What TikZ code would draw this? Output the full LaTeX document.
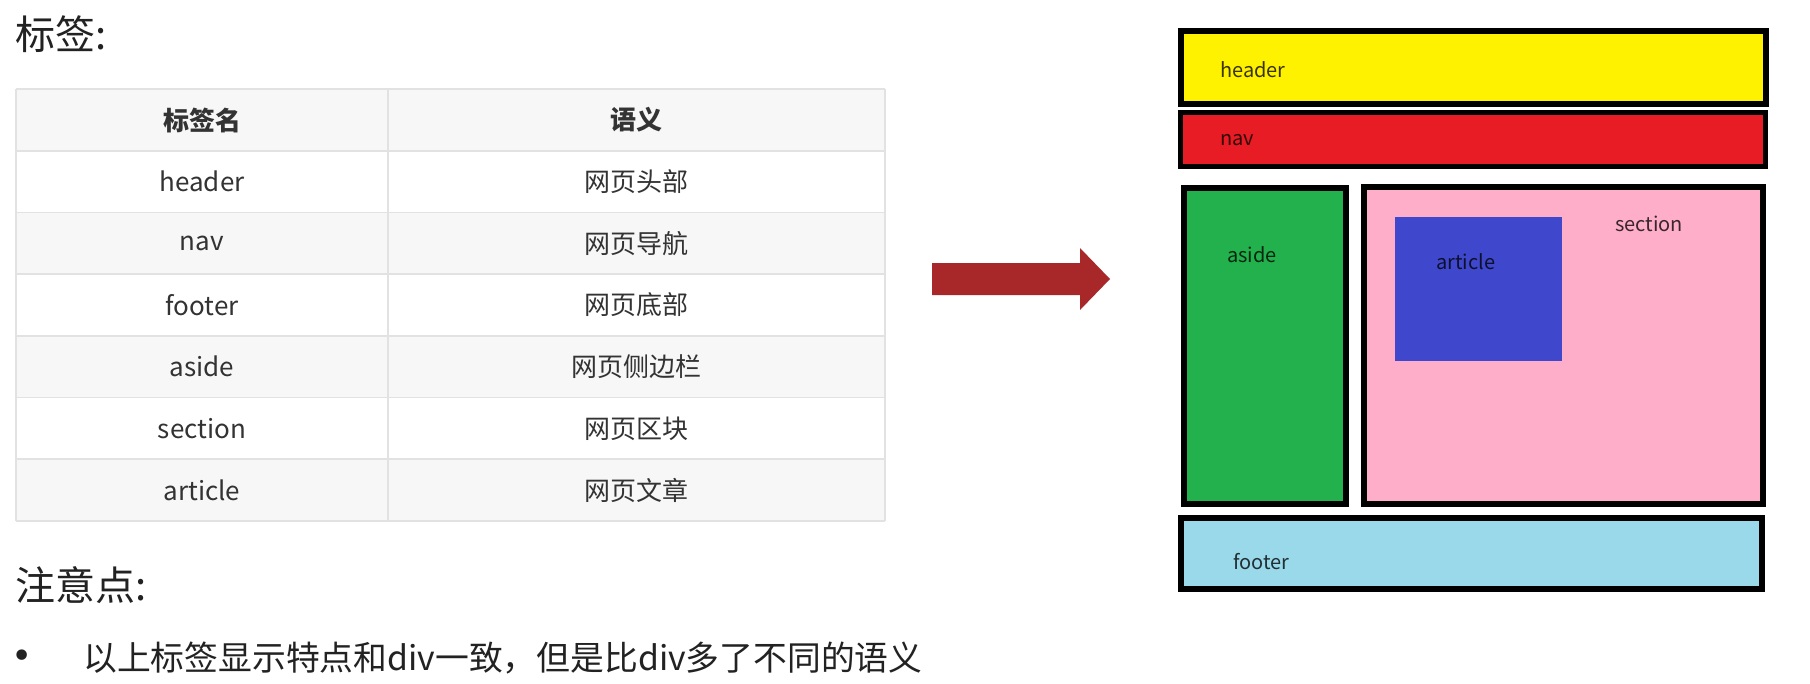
\documentclass[tikz,border=0pt]{standalone}
\usepackage{fontspec}
\setmainfont{Noto Sans CJK SC}
\newfontfamily\dvfont{DejaVu Sans}
\definecolor{thgray}{HTML}{F7F7F7}
\definecolor{gridc}{HTML}{E2E2E2}
\definecolor{txt}{HTML}{333333}
\definecolor{titlec}{HTML}{222222}
\definecolor{cyel}{HTML}{FFF200}
\definecolor{cred}{HTML}{E81C24}
\definecolor{cgreen}{HTML}{22B14C}
\definecolor{cpink}{HTML}{FFAEC9}
\definecolor{cblue}{HTML}{3F48CC}
\definecolor{ccyan}{HTML}{99D9EA}
\definecolor{carrow}{HTML}{A8282A}
\tikzset{
  gridline/.style={draw=gridc, line width=1.6pt},
  cell/.style={font=\fontsize{26}{26}\selectfont, text=txt, inner sep=0pt},
  bigtitle/.style={anchor=west, font=\fontsize{40}{40}\selectfont, text=titlec, inner sep=0pt},
  lbox/.style={draw=black, line width=6pt},
  lbl/.style={anchor=west, font=\fontsize{20}{20}\selectfont, text=black, text opacity=0.78, inner sep=0pt},
}
\begin{document}
\begin{tikzpicture}[x=1pt,y=-1pt]
\fill[white] (0,0) rectangle (1810,683);
\useasboundingbox (0,0) rectangle (1810,683);

% title
\node[bigtitle] (t1) at (15,34) {标签:};

% table
\foreach \i/\c in {0/thgray,1/white,2/thgray,3/white,4/thgray,5/white,6/thgray}
  \fill[\c] (16,{89+61.71*\i}) rectangle (885,{89+61.71*(\i+1)});
\foreach \i in {0,...,7}
  \draw[gridline] (16,{89+61.71*\i}) -- (885,{89+61.71*\i});
\foreach \x in {16,388,885}
  \draw[gridline] (\x,89) -- (\x,521);

\node[cell] (h1) at (202,120) {\bfseries 标签名};
\node[cell] (h2) at (636,120) {\bfseries 语义};
\node[cell] (a1) at (202,181.6) {header};
\node[cell] (a2) at (636,181.6) {网页头部};
\node[cell] (b1) at (202,243.3) {nav};
\node[cell] (b2) at (636,243.3) {网页导航};
\node[cell] (c1) at (202,305) {footer};
\node[cell] (c2) at (636,305) {网页底部};
\node[cell] (d1) at (202,366.7) {aside};
\node[cell] (d2) at (636,366.7) {网页侧边栏};
\node[cell] (e1) at (202,428.4) {section};
\node[cell] (e2) at (636,428.4) {网页区块};
\node[cell] (f1) at (202,490.1) {article};
\node[cell] (f2) at (636,490.1) {网页文章};

% notes
\node[bigtitle] (t2) at (15,585) {注意点:};
\node[font=\dvfont\fontsize{36}{36}\selectfont, text=titlec, inner sep=0pt] (bul) at (22,659) {•};
\node[anchor=west, font=\fontsize{33.8}{33.8}\selectfont, text=titlec, inner sep=0pt] (note) at (83,658) {以上标签显示特点和div一致，但是比div多了不同的语义};

% arrow
\fill[carrow] (932,263) -- (1080,263) -- (1080,248) -- (1110,279) -- (1080,310) -- (1080,295) -- (932,295) -- cycle;

% layout
\filldraw[lbox, fill=cyel] (1181,31) rectangle (1766,104);
\filldraw[lbox, line width=5pt, fill=cred] (1180.5,112.5) rectangle (1765.5,166.5);
\filldraw[lbox, fill=cgreen] (1184,188) rectangle (1346,504);
\filldraw[lbox, fill=cpink] (1363.5,186.5) rectangle (1763,503.5);
\fill[cblue] (1395,217) rectangle (1562,361);
\filldraw[lbox, fill=ccyan] (1181,518) rectangle (1762,589);

\node[lbl] (lh) at (1220,70) {header};
\node[lbl] (ln) at (1220,140) {nav};
\node[lbl] (la) at (1227,255) {aside};
\node[lbl] (lar) at (1436,262) {article};
\node[lbl] (ls) at (1615,224) {section};
\node[lbl] (lf) at (1233,562) {footer};
\end{tikzpicture}
\end{document}
